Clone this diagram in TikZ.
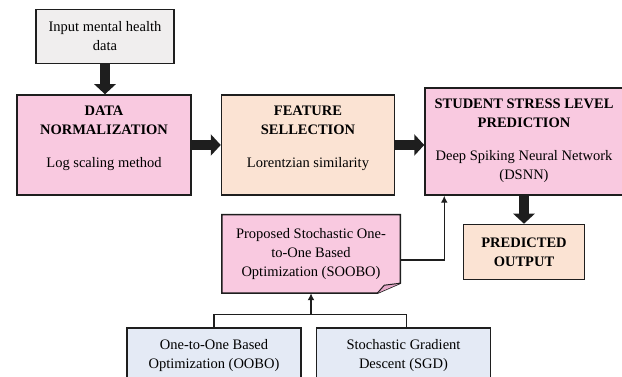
\documentclass[tikz,border=0pt]{standalone}
\usepackage{fontspec}
\setmainfont{Liberation Serif}
\usetikzlibrary{arrows.meta,positioning,calc,backgrounds}
\definecolor{ink}{HTML}{1E1E1E}
\definecolor{cPink}{HTML}{F9C9E0}
\definecolor{cPeach}{HTML}{FBE3D3}
\definecolor{cGray}{HTML}{F0EEEE}
\definecolor{cBlue}{HTML}{E4EAF5}
\definecolor{cFold}{HTML}{E6A8C8}
\tikzset{
  box/.style={draw=ink,line width=1.5pt,align=center,inner sep=2pt,
    font=\fontsize{14.5}{19}\selectfont},
  pinkbox/.style={box,fill=cPink},
  peachbox/.style={box,fill=cPeach},
  graybox/.style={box,fill=cGray},
  bluebox/.style={box,fill=cBlue},
  txt/.style={align=center,inner sep=0pt,font=\fontsize{14.5}{19}\selectfont},
  bigflow/.style={-{Triangle[length=10pt,width=21pt]},line width=10pt,ink},
  link/.style={-{Latex[length=7pt,width=7pt]},line width=1.4pt,ink},
  wire/.style={line width=1.4pt,ink}}

\begin{document}
\begin{tikzpicture}[x=1pt,y=1pt]
  \useasboundingbox (0,0) rectangle (622,377);
  % main row
  \node[pinkbox,minimum width=174pt,minimum height=100pt] (dn) at (104,232) {};
  \node[txt,anchor=north] (dnt) at ([yshift=-11pt]dn.north)
    {\textbf{DATA}\\\textbf{NORMALIZATION}\\[14pt]Log scaling method};
  \node[graybox,minimum width=138pt,minimum height=54pt,above=30pt of dn,xshift=1pt] (inp)
    {Input mental health\\data};
  \node[peachbox,minimum width=173pt,minimum height=100pt,right=29pt of dn] (fs) {};
  \node[txt,anchor=north] (fst) at ([yshift=-11pt]fs.north)
    {\textbf{FEATURE}\\\textbf{SELLECTION}\\[14pt]Lorentzian similarity};
  \node[pinkbox,minimum width=198pt,minimum height=107pt,anchor=south west] (sslp)
    at ([xshift=29pt]fs.south east) {};
  \node[txt,anchor=north] (sslpt) at ([yshift=-11pt]sslp.north)
    {\textbf{STUDENT STRESS LEVEL}\\\textbf{PREDICTION}\\[14pt]Deep Spiking Neural Network\\(DSNN)};
  \node[peachbox,minimum width=121pt,minimum height=55pt,below=28pt of sslp] (pred)
    {\textbf{PREDICTED}\\\textbf{OUTPUT}};
  % optimizer
  \node[box,draw=none,minimum width=177pt,minimum height=77pt,below=19pt of fs,xshift=3pt] (sb)
    {Proposed Stochastic One-\\to-One Based\\Optimization (SOOBO)};
  \begin{scope}[on background layer]
    \draw[ink,line width=1.5pt,fill=cPink] (sb.north west) -- (sb.north east)
      -- ([yshift=10pt]sb.south east) -- ([xshift=-23pt]sb.south east)
      -- (sb.south west) -- cycle;
    \draw[ink,line width=1pt,fill=cFold,line join=round] ([yshift=10pt]sb.south east)
      -- ([xshift=-16pt,yshift=8pt]sb.south east) -- ([xshift=-23pt]sb.south east);
  \end{scope}
  \node[bluebox,minimum width=174pt,minimum height=55pt] (oobo) at (214,21.5)
    {One-to-One Based\\Optimization (OOBO)};
  \node[bluebox,minimum width=174pt,minimum height=55pt,right=14pt of oobo] (sgd)
    {Stochastic Gradient\\Descent (SGD)};
  % arrows
  \draw[bigflow] (inp.south) -- (inp.south |- dn.north);
  \draw[bigflow] (dn) -- (fs);
  \draw[bigflow] (fs.east) -- (sslp.west |- fs.east);
  \draw[bigflow] (sslp.south) -- (pred.north);
  \draw[link] ([yshift=-6pt]sb.east) -| ([xshift=20pt]sslp.south west);
  \coordinate (split) at ([yshift=-21pt]sb.south);
  \draw[wire] (oobo.north) |- (split) -| ([xshift=3pt]sgd.north);
  \draw[link] (split) -- (sb.south);
\end{tikzpicture}
\end{document}
